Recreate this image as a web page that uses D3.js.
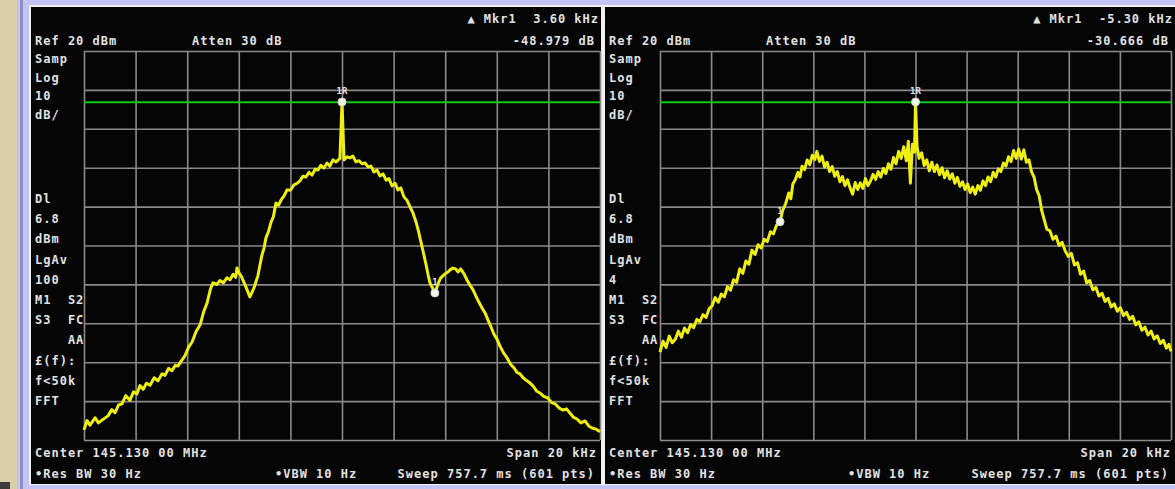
<!DOCTYPE html>
<html>
<head>
<meta charset="utf-8">
<script src="https://cdn.jsdelivr.net/npm/d3@7"></script>
<style>
  body { margin: 0; background: #c4c4f4; }
  svg { display: block; }
  .lbl { font-family: "DejaVu Sans Mono", monospace; font-size: 12px; font-weight: bold; fill: #e2e2e2; letter-spacing: 1px; white-space: pre; }
  .grid line { stroke: #8a8a8a; stroke-width: 1.6; }
  .grid path { display: none; }
</style>
</head>
<body>
<div class="chart"></div>
<script>
// kHz offset from centre, dBm
var leftTrace = [
  [-10.0,-77.4],[-9.88,-75.0],[-9.77,-76.2],[-9.57,-74.3],[-9.44,-75.6],[-9.30,-74.9],[-9.07,-73.8],
  [-8.92,-72.2],[-8.80,-73.0],[-8.66,-71.0],[-8.53,-70.7],[-8.38,-68.6],[-8.22,-69.8],[-8.08,-67.6],
  [-7.95,-68.2],[-7.83,-66.0],[-7.71,-67.0],[-7.58,-65.4],[-7.44,-65.9],[-7.28,-64.0],[-7.13,-64.8],
  [-6.98,-63.0],[-6.86,-63.4],[-6.72,-61.6],[-6.59,-62.2],[-6.46,-60.8],[-6.36,-61.0],[-6.22,-59.6],
  [-6.09,-58.4],[-5.95,-56.2],[-5.81,-54.8],[-5.66,-52.2],[-5.50,-50.4],[-5.36,-47.0],[-5.23,-44.8],
  [-5.10,-41.2],[-5.00,-39.6],[-4.86,-40.0],[-4.73,-39.0],[-4.60,-39.6],[-4.46,-38.3],[-4.34,-38.8],
  [-4.22,-37.4],[-4.12,-38.2],[-4.07,-35.8],[-3.98,-37.2],[-3.91,-37.8],[-3.72,-40.7],[-3.57,-43.2],
  [-3.41,-40.9],[-3.26,-37.8],[-3.18,-35.0],[-3.10,-32.4],[-3.02,-30.6],[-2.95,-28.1],[-2.85,-26.4],
  [-2.75,-24.0],[-2.66,-22.6],[-2.56,-19.1],[-2.46,-19.6],[-2.36,-18.3],[-2.24,-17.2],[-2.13,-15.7],
  [-2.00,-15.8],[-1.86,-14.4],[-1.74,-14.0],[-1.63,-13.4],[-1.52,-12.2],[-1.40,-12.4],[-1.28,-11.2],
  [-1.16,-11.9],[-1.04,-10.4],[-0.93,-10.6],[-0.82,-9.4],[-0.70,-10.1],[-0.58,-8.8],[-0.47,-9.6],
  [-0.35,-8.0],[-0.23,-8.5],[-0.08,-7.6],[0,6.9],[0.08,-8.0],[0.20,-7.2],[0.31,-7.5],[0.42,-7.0],
  [0.54,-8.5],[0.66,-8.2],[0.78,-9.0],[0.90,-8.8],[1.01,-9.8],[1.12,-9.6],[1.24,-11.1],[1.36,-10.6],
  [1.47,-12.1],[1.59,-11.6],[1.71,-13.2],[1.82,-12.8],[1.94,-14.7],[2.06,-14.0],[2.17,-15.7],
  [2.28,-15.2],[2.40,-17.5],[2.52,-18.4],[2.64,-20.1],[2.75,-21.6],[2.87,-24.0],[2.96,-26.2],
  [3.06,-29.1],[3.16,-32.0],[3.26,-35.0],[3.34,-37.6],[3.41,-39.6],[3.60,-42.2],[3.72,-39.9],
  [3.82,-38.4],[3.91,-37.8],[4.01,-37.2],[4.11,-36.8],[4.20,-36.2],[4.30,-35.8],[4.40,-36.0],
  [4.50,-36.8],[4.60,-36.0],[4.73,-37.3],[4.84,-38.8],[4.96,-40.2],[5.08,-41.4],[5.19,-43.0],
  [5.31,-44.6],[5.43,-46.1],[5.55,-47.4],[5.66,-49.2],[5.78,-51.0],[5.89,-52.8],[6.00,-54.0],
  [6.12,-55.8],[6.26,-57.6],[6.40,-58.9],[6.54,-60.6],[6.67,-61.5],[6.78,-62.6],[6.90,-63.0],
  [7.02,-64.0],[7.13,-64.6],[7.26,-65.2],[7.40,-66.1],[7.54,-67.4],[7.67,-67.9],[7.82,-68.8],
  [7.98,-69.2],[8.12,-70.4],[8.26,-70.7],[8.42,-71.8],[8.57,-72.3],[8.70,-72.0],[8.84,-73.1],
  [8.98,-74.2],[9.11,-74.6],[9.26,-75.6],[9.42,-75.1],[9.56,-76.4],[9.69,-76.9],[9.84,-77.2],
  [10.0,-77.9]
];
var rightTrace = [
  [-10.00,-57.4],[-9.88,-54.6],[-9.76,-56.2],[-9.64,-53.3],[-9.52,-55.0],[-9.40,-54.1],
  [-9.28,-52.0],[-9.16,-53.6],[-9.04,-51.2],[-8.92,-52.4],[-8.80,-50.3],[-8.68,-51.1],
  [-8.56,-49.0],[-8.44,-49.6],[-8.32,-47.8],[-8.20,-48.5],[-8.08,-46.3],[-7.96,-45.5],
  [-7.84,-43.4],[-7.72,-44.6],[-7.60,-42.5],[-7.48,-43.2],[-7.36,-40.6],[-7.24,-41.5],
  [-7.12,-38.8],[-7.00,-39.5],[-6.88,-36.0],[-6.76,-37.2],[-6.64,-34.0],[-6.52,-34.8],
  [-6.40,-31.2],[-6.28,-32.3],[-6.16,-29.8],[-6.04,-30.6],[-5.92,-28.4],[-5.80,-29.0],
  [-5.68,-26.5],[-5.56,-27.0],[-5.44,-24.8],[-5.30,-23.9],[-5.20,-21.0],[-5.08,-19.2],
  [-4.96,-16.5],[-4.88,-18.0],[-4.80,-14.2],[-4.70,-13.0],[-4.60,-11.2],[-4.52,-12.4],
  [-4.44,-9.6],[-4.34,-10.5],[-4.24,-8.0],[-4.14,-9.2],[-4.04,-6.8],[-3.94,-7.9],
  [-3.86,-5.8],[-3.76,-8.4],[-3.66,-7.0],[-3.56,-9.8],[-3.46,-8.6],[-3.36,-11.0],
  [-3.26,-9.7],[-3.16,-12.2],[-3.06,-11.0],[-2.96,-13.6],[-2.86,-12.3],[-2.76,-14.6],
  [-2.66,-13.1],[-2.56,-15.2],[-2.46,-16.8],[-2.36,-13.8],[-2.26,-15.6],[-2.16,-13.9],
  [-2.06,-15.3],[-1.96,-12.8],[-1.86,-14.6],[-1.76,-13.4],[-1.66,-11.7],[-1.56,-13.0],
  [-1.46,-11.0],[-1.36,-12.4],[-1.26,-10.2],[-1.16,-11.5],[-1.06,-9.0],[-0.96,-10.4],
  [-0.86,-7.4],[-0.76,-9.0],[-0.66,-5.8],[-0.56,-7.6],[-0.46,-4.6],[-0.36,-8.2],
  [-0.28,-3.2],[-0.20,-14.0],[-0.12,-4.0],[-0.04,-6.0],[0,6.9],[0.06,-4.5],[0.14,-7.6],
  [0.24,-6.2],[0.34,-9.4],[0.44,-8.0],[0.54,-10.8],[0.64,-8.6],[0.74,-11.0],[0.84,-9.3],
  [0.94,-11.8],[1.04,-10.0],[1.14,-12.6],[1.24,-10.8],[1.34,-12.9],[1.44,-11.6],
  [1.54,-14.0],[1.64,-12.5],[1.74,-14.8],[1.84,-13.6],[1.94,-15.6],[2.04,-14.2],
  [2.14,-16.4],[2.24,-15.0],[2.34,-16.8],[2.44,-14.6],[2.54,-15.8],[2.64,-13.4],
  [2.74,-14.6],[2.84,-12.4],[2.94,-13.6],[3.04,-11.2],[3.14,-12.4],[3.24,-10.3],
  [3.34,-11.0],[3.44,-8.8],[3.54,-9.6],[3.64,-7.2],[3.74,-8.4],[3.84,-5.6],[3.94,-7.6],
  [4.04,-5.2],[4.14,-7.8],[4.24,-5.4],[4.34,-8.6],[4.44,-8.0],[4.54,-11.0],[4.64,-12.4],
  [4.74,-15.6],[4.84,-17.2],[4.94,-21.0],[5.04,-23.4],[5.14,-25.8],[5.26,-26.2],
  [5.38,-28.4],[5.50,-27.6],[5.62,-30.0],[5.74,-29.2],[5.86,-31.4],[5.98,-32.8],
  [6.10,-32.0],[6.22,-35.0],[6.34,-34.4],[6.46,-37.4],[6.58,-36.6],[6.70,-39.6],
  [6.82,-39.0],[6.94,-41.4],[7.06,-40.8],[7.18,-43.0],[7.30,-42.3],[7.42,-44.4],
  [7.54,-43.6],[7.66,-45.8],[7.78,-45.0],[7.90,-46.9],[8.02,-46.0],[8.14,-48.0],
  [8.26,-47.2],[8.38,-49.0],[8.50,-48.2],[8.62,-50.4],[8.74,-49.6],[8.86,-51.8],
  [8.98,-51.0],[9.10,-53.0],[9.22,-52.0],[9.34,-54.0],[9.46,-53.2],[9.58,-55.2],
  [9.70,-54.4],[9.82,-56.4],[9.92,-55.4],[10.0,-57.2]
];
// markers: [kHz, dBm, label]
var leftMarkers = [[0, 6.9, "1R"], [3.60, -42.2, "1"]];
var rightMarkers = [[0, 6.9, "1R"], [-5.30, -23.9, "1"]];
var displayLine = 6.8;
var freqTicks = d3.range(-10, 11, 2);
var levelTicks = d3.range(-80, 21, 10);
var leftReadout = ["\u25B2 Mkr1  3.60 kHz", "-48.979 dB"];
var rightReadout = ["\u25B2 Mkr1  -5.30 kHz", "-30.666 dB"];
var sideTop = ["Samp", "Log", "10", "dB/"];
var leftSide = ["Dl", "6.8", "dBm", "LgAv", "100", "M1  S2", "S3  FC", "    AA", "\u00A3(f):", "f<50k", "FFT"];
var rightSide = ["Dl", "6.8", "dBm", "LgAv", "4", "M1  S2", "S3  FC", "    AA", "\u00A3(f):", "f<50k", "FFT"];

var W = 1175, H = 489;
var svg = d3.select(".chart").append("svg").attr("width", W).attr("height", H);

// frame
svg.append("rect").attr("width", W).attr("height", H).attr("fill", "#c4c4f4");
svg.append("rect").attr("x", 0).attr("y", 0).attr("width", 17).attr("height", H).attr("fill", "#d8cfa9");
svg.append("rect").attr("x", 20).attr("y", 0).attr("width", 3).attr("height", H).attr("fill", "#8f8fc8");
svg.append("rect").attr("x", 0).attr("y", 482).attr("width", 10).attr("height", 7).attr("fill", "#3a3a3a");
svg.append("rect").attr("x", 29).attr("y", 5).attr("width", W - 29).attr("height", 480).attr("fill", "#f2f2f2");

var panels = [
  {x0: 31, x1: 601, px0: 84, px1: 600, trace: leftTrace, markers: leftMarkers, readout: leftReadout, side: leftSide, vbwX: 275, atten: 192},
  {x0: 605, x1: 1175, px0: 660, px1: 1171, trace: rightTrace, markers: rightMarkers, readout: rightReadout, side: rightSide, vbwX: 848, atten: 766}
];
var plotTop = 51, plotBottom = 440;

panels.forEach(function(p){
  var g = svg.append("g");
  g.append("rect").attr("x", p.x0).attr("y", 7).attr("width", p.x1 - p.x0).attr("height", 477).attr("fill", "#050505");

  var x = d3.scaleLinear().domain([-10, 10]).range([p.px0, p.px1]);
  var y = d3.scaleLinear().domain([-80, 20]).range([plotBottom, plotTop]);

  //grid
  g.append("g").attr("class", "grid")
    .attr("transform", "translate(0," + plotBottom + ")")
    .call(d3.axisBottom(x).tickValues(freqTicks).tickSize(-(plotBottom - plotTop)).tickFormat(""));
  g.append("g").attr("class", "grid")
    .attr("transform", "translate(" + p.px0 + ",0)")
    .call(d3.axisLeft(y).tickValues(levelTicks).tickSize(-(p.px1 - p.px0)).tickFormat(""));

  // display line
  g.append("line")
    .attr("x1", x(-10)).attr("x2", x(10))
    .attr("y1", y(displayLine)).attr("y2", y(displayLine))
    .attr("stroke", "#12c812").attr("stroke-width", 2);

  // trace
  var line = d3.line().x(function(d){ return x(d[0]); }).y(function(d){ return y(d[1]); });
  g.append("path").datum(p.trace)
    .attr("d", line)
    .attr("fill", "none")
    .attr("stroke", "#eeee10")
    .attr("stroke-width", 3)
    .attr("stroke-linejoin", "round");

  // markers
  p.markers.forEach(function(m){
    g.append("circle").attr("cx", x(m[0])).attr("cy", y(m[1])).attr("r", 4)
      .attr("fill", "#f4f4e8").attr("stroke", "#c8d8c8").attr("stroke-width", 1);
    g.append("text").attr("class", "lbl")
      .attr("x", x(m[0])).attr("y", y(m[1]) - 8)
      .attr("text-anchor", "middle")
      .style("font-size", "9px").style("letter-spacing", "0px")
      .text(m[2]);
  });

  // texts
  var tx = p.x0 + 4;
  g.append("text").attr("class", "lbl").attr("x", p.x1 - 2).attr("y", 23).attr("text-anchor", "end").text(p.readout[0]);
  g.append("text").attr("class", "lbl").attr("x", p.x1 - 6).attr("y", 45).attr("text-anchor", "end").text(p.readout[1]);
  g.append("text").attr("class", "lbl").attr("x", tx).attr("y", 45).text("Ref 20 dBm");
  g.append("text").attr("class", "lbl").attr("x", p.atten).attr("y", 45).text("Atten 30 dB");

  sideTop.forEach(function(t, i){
    g.append("text").attr("class", "lbl").attr("x", tx).attr("y", 63 + i * 18.5).text(t);
  });
  p.side.forEach(function(t, i){
    g.append("text").attr("class", "lbl").attr("x", tx).attr("y", 203 + i * 20.2).text(t);
  });

  g.append("text").attr("class", "lbl").attr("x", tx).attr("y", 457).text("Center 145.130 00 MHz");
  g.append("text").attr("class", "lbl").attr("x", p.x1 - 4).attr("y", 457).attr("text-anchor", "end").text("Span 20 kHz");
  g.append("text").attr("class", "lbl").attr("x", tx).attr("y", 478).text("\u2022Res BW 30 Hz");
  g.append("text").attr("class", "lbl").attr("x", p.vbwX).attr("y", 478).text("\u2022VBW 10 Hz");
  g.append("text").attr("class", "lbl").attr("x", p.x1 - 6).attr("y", 478).attr("text-anchor", "end").text("Sweep 757.7 ms (601 pts)");
});
</script>
</body>
</html>
